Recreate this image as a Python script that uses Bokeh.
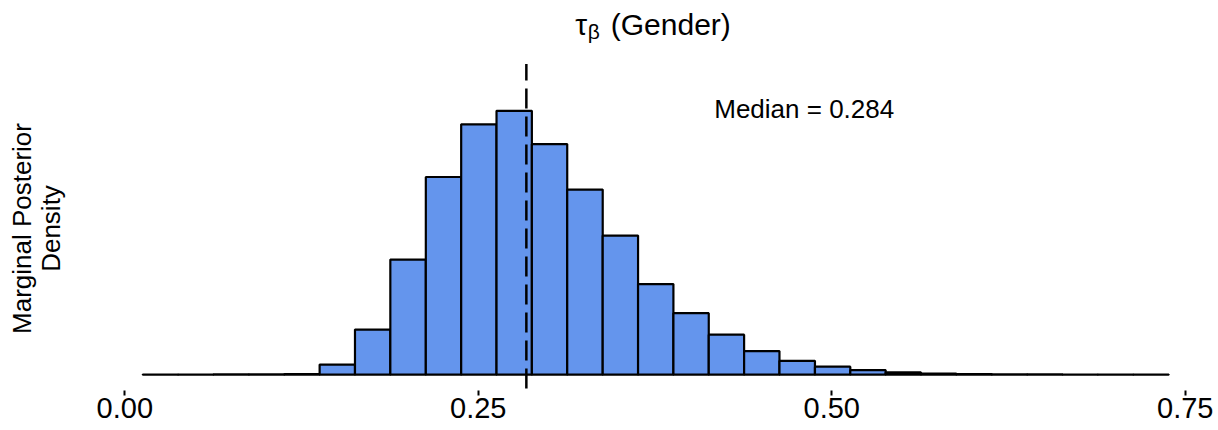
import numpy as np
from bokeh.plotting import figure
from bokeh.models import FixedTicker, NumeralTickFormatter, Range1d
from bokeh.core.properties import value
from bokeh.embed import file_html
from bokeh.resources import INLINE

# ---- data ----
bin_edges = [0.0127, 0.0377, 0.0627, 0.0878, 0.1128, 0.1378, 0.1628, 0.1878,
             0.2129, 0.2379, 0.2629, 0.2879, 0.3129, 0.3380, 0.3630, 0.3880,
             0.4130, 0.4380, 0.4630, 0.4881, 0.5131, 0.5381, 0.5631, 0.5881,
             0.6132, 0.6382, 0.6632, 0.6882, 0.7132, 0.7383]
density = [0.002, 0.002, 0.007, 0.007, 0.014, 0.24, 1.07, 2.73, 4.69, 5.94,
           6.26, 5.47, 4.39, 3.30, 2.15, 1.46, 0.95, 0.56, 0.33, 0.19,
           0.11, 0.055, 0.024, 0.017, 0.009, 0.007, 0.005, 0.002, 0.002]
median = 0.284
x_ticks = [0.0, 0.25, 0.5, 0.75]
title_sym = "τ"
title_sub = "β"
title_rest = "(Gender)"
median_label = "Median = 0.284"
y_label_lines = ["Marginal Posterior", "Density"]

FONT = "Liberation Sans"

p = figure(width=1218, height=430, output_backend="svg", toolbar_location=None,
           x_range=Range1d(-0.0879, 0.7735), y_range=Range1d(-0.3748, 8.876),
           min_border_left=0, min_border_right=0, min_border_top=0,
           min_border_bottom=40)
p.outline_line_color = None
p.grid.visible = False
p.yaxis.visible = False
p.background_fill_color = "white"
p.border_fill_color = "white"

# histogram
p.quad(left=bin_edges[:-1], right=bin_edges[1:], bottom=0, top=density,
       fill_color="#6495ED", line_color="black", line_width=2.2)

# median line
p.segment(x0=[median], y0=[-0.327], x1=[median], y1=[7.37],
          line_color="black", line_width=2.5, line_dash="20 8")

# median label
p.text(x=[0.4805], y=[6.302], text=[median_label], text_font=value(FONT),
       text_font_size="26px", text_align="center", text_baseline="middle",
       text_color="black")

# title pieces
p.text(x=[0.3270], y=[8.318], text=[title_sym], text_font=value(FONT),
       text_font_size="30px", text_align="right", text_baseline="middle")
p.text(x=[0.3275], y=[8.14], text=[title_sub], text_font=value(FONT),
       text_font_size="21px", text_align="left", text_baseline="middle")
p.text(x=[0.3437], y=[8.318], text=[title_rest], text_font=value(FONT),
       text_font_size="30px", text_align="left", text_baseline="middle")

# y-axis title (two rotated lines)
p.text(x=[-0.0725, -0.0522], y=[3.468, 3.468], text=y_label_lines,
       text_font=value(FONT), text_font_size="26px", text_align="center",
       text_baseline="middle", angle=np.pi / 2, text_color="black")

# x axis
xa = p.xaxis[0]
xa.ticker = FixedTicker(ticks=x_ticks)
xa.formatter = NumeralTickFormatter(format="0.00")
xa.axis_line_color = None
xa.major_tick_out = 5
xa.major_tick_in = 0
xa.major_tick_line_width = 2
xa.minor_tick_line_color = None
xa.major_label_text_font = FONT
xa.major_label_text_font_size = "29px"
xa.major_label_text_color = "black"
xa.major_label_standoff = 2

open("out.html", "w").write(file_html(p, INLINE))
